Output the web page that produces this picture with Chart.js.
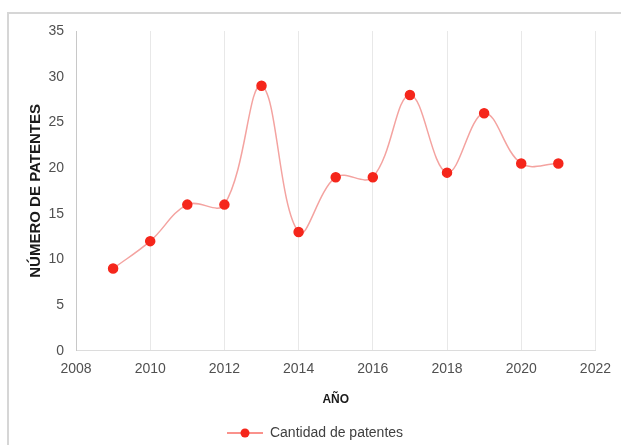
<!DOCTYPE html>
<html lang="es">
<head>
<meta charset="UTF-8">
<title>Cantidad de patentes</title>
<script src="https://cdn.jsdelivr.net/npm/chart.js"></script>
<style>
    html, body { margin: 0; padding: 0; background: #fff; overflow: hidden; }
    .frame {
        position: absolute; left: 7px; top: 12px; width: 640px; height: 460px;
        border-left: 2px solid #d6d6d6; border-top: 2px solid #d6d6d6;
    }
    .wrap { position: absolute; left: 0; top: 5px; width: 621px; height: 445px; }
</style>
</head>
<body>
<div class="frame"></div>
<div class="wrap"><canvas id="chart"></canvas></div>
<script>
    const years = [2009, 2010, 2011, 2012, 2013, 2014, 2015, 2016, 2017, 2018, 2019, 2020, 2021];
    const patentes = [9, 12, 16, 16, 29, 13, 19, 19, 28, 19.5, 26, 20.5, 20.5];
    const xTicks = [2008, 2010, 2012, 2014, 2016, 2018, 2020, 2022];

    const lineColor = '#f4a3a0';
    const dotColor = '#f5261b';

    // legend marker: short line with a dot in the middle
    const marker = document.createElement('canvas');
    marker.width = 36; marker.height = 10;
    const m = marker.getContext('2d');
    m.strokeStyle = dotColor;
    m.lineWidth = 1.2;
    m.beginPath(); m.moveTo(0, 5); m.lineTo(36, 5); m.stroke();
    m.fillStyle = dotColor;
    m.beginPath(); m.arc(18, 5, 4.5, 0, Math.PI * 2); m.fill();

    const font = 'Liberation Sans, Arial, sans-serif';

    new Chart(document.getElementById('chart'), {
        type: 'line',
        data: {
            datasets: [{
                label: 'Cantidad de patentes',
                data: years.map((y, i) => ({ x: y, y: patentes[i] })),
                borderColor: lineColor,
                borderWidth: 1.5,
                backgroundColor: dotColor,
                pointBackgroundColor: dotColor,
                pointBorderColor: dotColor,
                pointRadius: 4.5,
                pointStyle: 'circle',
                tension: 0.38
            }]
        },
        options: {
            responsive: true,
            maintainAspectRatio: false,
            animation: false,
            layout: { padding: { left: 27, right: 18, top: 26, bottom: 0 } },
            plugins: {
                tooltip: { enabled: false },
                legend: {
                    position: 'bottom',
                    labels: {
                        usePointStyle: true,
                        pointStyleWidth: 36,
                        color: '#404040',
                        font: { family: font, size: 14 },
                        padding: 0,
                        generateLabels: chart => [{
                            text: 'Cantidad de patentes',
                            pointStyle: marker,
                            fontColor: '#404040',
                            datasetIndex: 0
                        }]
                    }
                }
            },
            scales: {
                x: {
                    type: 'linear',
                    min: 2008,
                    max: 2022,
                    afterBuildTicks: scale => { scale.ticks = xTicks.map(v => ({ value: v })); },
                    grid: { color: '#e8e8e8', drawTicks: false },
                    border: { color: '#dcdcdc' },
                    ticks: {
                        color: '#505050',
                        font: { family: font, size: 14 },
                        padding: 10,
                        maxRotation: 0,
                        callback: v => String(v)
                    },
                    title: {
                        display: true,
                        text: 'AÑO',
                        color: '#1a1a1a',
                        font: { family: font, size: 12, weight: 'bold' },
                        padding: { top: 5, bottom: 19 }
                    }
                },
                y: {
                    min: 0,
                    max: 35,
                    ticks: {
                        stepSize: 5,
                        color: '#505050',
                        font: { family: font, size: 14 },
                        padding: 4
                    },
                    grid: { display: false },
                    border: { color: '#c8c8c8' },
                    title: {
                        display: true,
                        text: 'NÚMERO DE PATENTES',
                        color: '#1a1a1a',
                        font: { family: font, size: 15, weight: 'bold' },
                        padding: { top: 0, bottom: 0 }
                    },
                    afterFit: scale => { scale.width = 49; }
                }
            }
        }
    });
</script>
</body>
</html>
